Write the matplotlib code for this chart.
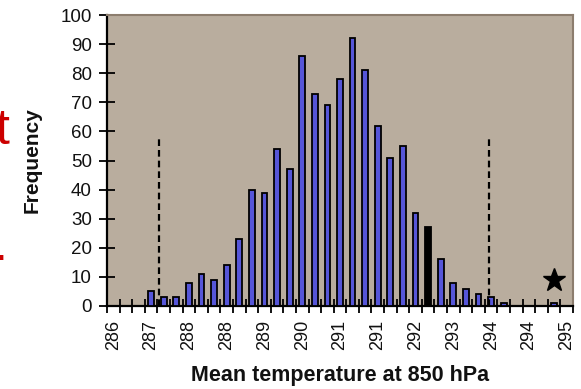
import numpy as np
import matplotlib.pyplot as plt

plt.rcParams['font.family'] = ['Liberation Sans', 'DejaVu Sans']

# Ensemble histogram of mean 850 hPa temperature (bins of 0.25 K from 286.0)
bin_start = 286.0
bin_step = 0.25
counts = [0, 0, 0, 5, 3, 3, 8, 11, 9, 14, 23, 40, 39, 54, 47, 86, 73, 69, 78,
          92, 81, 62, 51, 55, 32, 27, 16, 8, 6, 4, 3, 1, 0, 0, 0, 1, 0]
black_bins = [25]  # bar drawn in black instead of blue

tick_labels = ['286', '287', '288', '288', '289', '290', '291', '291',
               '292', '293', '294', '294', '295']

# 5% / 95% limits (dashed) and the observed value (star)
limits = [286.9, 293.45]
limit_height = 58
observed_temp = 294.75
observed_freq = 9

centers = bin_start + bin_step * np.arange(len(counts))
colors = ['black' if i in black_bins else '#5656d8' for i in range(len(counts))]

fig = plt.figure(figsize=(5.81, 3.89), dpi=100)
ax = fig.add_axes([107 / 581, 1 - 306 / 389, 466 / 581, 291 / 389])
ax.set_facecolor('#b9ad9e')

ax.bar(centers, counts, width=0.115, color=colors, edgecolor='black',
       linewidth=1.3, zorder=3)
ax.vlines(limits, 0, limit_height, colors='black', linestyles=(0, (3, 1.8)),
          linewidth=1.6, zorder=4)
ax.plot(observed_temp, observed_freq, marker='*', color='black',
        markersize=17, zorder=5)

ax.set_xlim(bin_start - bin_step / 2, centers[-1] + bin_step / 2)
ax.set_ylim(0, 100)

ax.set_xticks(centers[::3])
ax.set_xticklabels(tick_labels, rotation=90)
ax.set_xticks(np.append(centers - bin_step / 2, centers[-1] + bin_step / 2),
              minor=True)
ax.tick_params(axis='x', which='major', length=0, pad=10, labelsize=13,
               labelcolor='#111111')
ax.tick_params(axis='x', which='minor', direction='inout', length=10,
               width=1.3, color='black')
ax.set_yticks(range(0, 101, 10))
ax.tick_params(axis='y', direction='inout', length=11, width=1.3,
               pad=5.5, labelsize=13.5, labelcolor='#111111')

for side in ['left', 'bottom']:
    ax.spines[side].set_linewidth(1.6)
    ax.spines[side].set_color('black')
for side in ['top', 'right']:
    ax.spines[side].set_linewidth(1.5)
    ax.spines[side].set_color('#8c7d6e')

ax.set_xlabel('Mean temperature at 850 hPa', fontsize=15.5, fontweight='bold',
              color='#111111')
ax.xaxis.set_label_coords(0.5, -0.204)
ax.set_ylabel('Frequency', fontsize=15, fontweight='bold', color='#111111',
              va='center')
ax.yaxis.set_label_coords(-0.161, 0.5)

# fragments of the slide text cut off at the left edge (as in the source)
fig.text(-5 / 581, 1 - 144 / 389, 't', color='#cc0000', fontsize=36)
fig.text(-6.5 / 581, 1 - 260 / 389, '.', color='#cc0000', fontsize=36)

fig.savefig('out.png', dpi=100)
